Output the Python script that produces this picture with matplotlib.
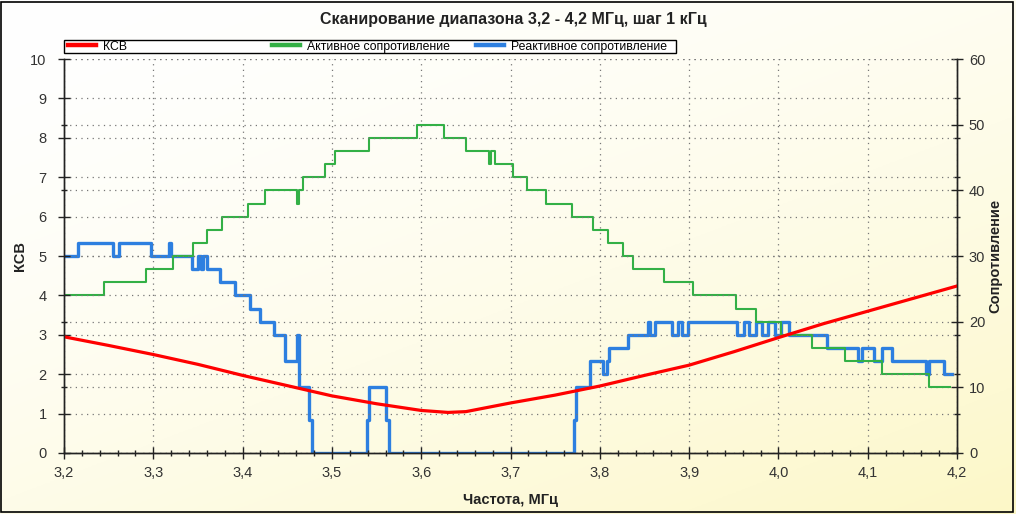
import numpy as np
import matplotlib
matplotlib.use("Agg")
import matplotlib.pyplot as plt
from matplotlib.ticker import MultipleLocator, FixedLocator, FuncFormatter
from matplotlib.patches import Rectangle

plt.rcParams['font.family'] = ['Liberation Sans Narrow', 'Liberation Sans', 'DejaVu Sans']

# КСВ (left axis)
ksv_freq = [3.20, 3.25, 3.30, 3.35, 3.40, 3.45, 3.50, 3.55, 3.60, 3.63, 3.65,
            3.70, 3.75, 3.80, 3.85, 3.90, 3.95, 4.00, 4.05, 4.10, 4.15, 4.20]
ksv = [2.95, 2.73, 2.50, 2.25, 1.97, 1.71, 1.45, 1.25, 1.08, 1.03, 1.05,
       1.27, 1.47, 1.70, 1.97, 2.23, 2.57, 2.93, 3.28, 3.60, 3.92, 4.24]

# Активное сопротивление (right axis, steps)
r_freq = [3.200, 3.245, 3.292, 3.322, 3.344, 3.360, 3.377, 3.406, 3.425, 3.461,
          3.463, 3.468, 3.492, 3.503, 3.542, 3.595, 3.626, 3.650, 3.676, 3.678,
          3.683, 3.703, 3.718, 3.740, 3.769, 3.792, 3.809, 3.826, 3.837, 3.872,
          3.904, 3.953, 3.975, 4.003, 4.037, 4.075, 4.116, 4.169, 4.192]
r_val = [24, 26, 28, 30, 32, 34, 36, 38, 40, 38,
         40, 42, 44, 46, 48, 50, 48, 46, 44, 46,
         44, 42, 40, 38, 36, 34, 32, 30, 28, 26,
         24, 22, 20, 18, 16, 14, 12, 10, 10]

# Реактивное сопротивление (right axis, steps)
x_freq = [3.200, 3.216, 3.255, 3.262, 3.297, 3.318, 3.320, 3.343, 3.350, 3.353,
          3.356, 3.360, 3.375, 3.391, 3.408, 3.419, 3.435, 3.447, 3.461, 3.463,
          3.474, 3.478, 3.539, 3.542, 3.561, 3.564, 3.771, 3.773, 3.789, 3.804,
          3.808, 3.810, 3.832, 3.854, 3.856, 3.862, 3.881, 3.888, 3.892, 3.899,
          3.954, 3.961, 3.967, 3.975, 3.982, 3.988, 3.996, 4.003, 4.012, 4.054,
          4.089, 4.094, 4.107, 4.116, 4.127, 4.165, 4.169, 4.185, 4.194]
x_val = [30, 32, 30, 32, 30, 32, 30, 28, 30, 28,
         30, 28, 26, 24, 22, 20, 18, 14, 18, 10,
         5, 0, 5, 10, 5, 0, 5, 10, 14, 12,
         14, 16, 18, 20, 18, 20, 18, 20, 18, 20,
         18, 20, 18, 20, 18, 20, 18, 20, 18, 16,
         14, 16, 14, 16, 14, 12, 14, 12, 12]

fig = plt.figure(figsize=(10.16, 5.14), dpi=100)

# background gradient
bg = fig.add_axes([0, 0, 1, 1], zorder=-10)
gx, gy = np.meshgrid(np.linspace(0, 1, 200), np.linspace(0, 1, 200))
t = np.clip((gx * 0.6 + gy * 0.8) / 1.4, 0, 1) ** 1.6
img = np.dstack([1 - 0.01 * t, 1 - 0.03 * t, 1 - 0.22 * t])
bg.imshow(img, aspect='auto', extent=[0, 1, 0, 1], origin='upper')
bg.axis('off')
fig.patches.append(Rectangle((0.001, 0.003), 0.996, 0.994, transform=fig.transFigure,
                             fill=False, edgecolor='black', lw=1.2))

ax = fig.add_axes([0.063, 0.1187, 0.879, 0.7663])
ax2 = ax.twinx()
ax.set_zorder(ax2.get_zorder() + 1)
ax.patch.set_visible(False)
ax2.patch.set_visible(False)

l3, = ax2.plot(x_freq, x_val, drawstyle='steps-post', color='#2d7fe0', lw=2.4,
               label='Реактивное сопротивление')
l2, = ax2.plot(r_freq, r_val, drawstyle='steps-post', color='#33b046', lw=1.5,
               label='Активное сопротивление')
l1, = ax.plot(ksv_freq, ksv, color='#ff0000', lw=2.3, label='КСВ')

ax.set_xlim(3.2, 4.2)
ax.set_ylim(0, 10)
ax2.set_ylim(0, 60)

ax.xaxis.set_major_locator(MultipleLocator(0.1))
ax.xaxis.set_minor_locator(MultipleLocator(0.02))
ax.xaxis.set_major_formatter(FuncFormatter(lambda v, p: f"{v:.1f}".replace('.', ',')))
ax.yaxis.set_major_locator(MultipleLocator(1))
ax.yaxis.set_minor_locator(FixedLocator([k * 10 / 6 for k in range(7)]))
ax2.yaxis.set_major_locator(MultipleLocator(10))
ax2.yaxis.set_minor_locator(FixedLocator([k * 6 for k in range(11)]))

for a in (ax, ax2):
    a.spines['top'].set_visible(False)
    for s in a.spines.values():
        s.set_color('#222222')
        s.set_linewidth(1.0)
    a.tick_params(which='major', direction='inout', length=9, width=1, colors='#222222',
                  labelsize=10.5, labelcolor='#333333')
    a.tick_params(which='minor', direction='inout', length=5, width=1, colors='#222222')
ax.tick_params(axis='x', pad=5)
ax.tick_params(axis='y', pad=8)
ax2.tick_params(axis='y', pad=4)

grid_kw = dict(color='#777777', linestyle=(0, (1, 3.5)), linewidth=0.9)
ax.grid(True, which='major', axis='both', **grid_kw)
ax2.grid(True, which='major', axis='y', **grid_kw)

ax.set_xlabel('Частота, МГц', fontsize=10.5, fontweight='bold', color='#222222', labelpad=9)
ax.set_ylabel('КСВ', fontsize=10.5, fontweight='bold', color='#222222', labelpad=2)
ax2.set_ylabel('Сопротивление', fontsize=10.5, fontweight='bold', color='#222222', labelpad=2)

fig.text(0.5055, 0.962, 'Сканирование диапазона 3,2 - 4,2 МГц, шаг 1 кГц', ha='center',
         va='center', fontsize=11.5, fontweight='bold', color='#222222')

# legend: three equal-width slots inside one frame
fig.patches.append(Rectangle((0.063, 0.8968), 0.6024, 0.0253, transform=fig.transFigure,
                             facecolor='white', edgecolor='black', lw=1.0))
for line, x0 in zip([l1, l2, l3], [0.0669, 0.2677, 0.4685]):
    lg = fig.legend(handles=[line], loc='center left', bbox_to_anchor=(x0, 0.9095),
                    borderaxespad=0, borderpad=0, frameon=False, fontsize=8.8,
                    handlelength=2.3, handletextpad=0.6)
    for ln in lg.get_lines():
        ln.set_linewidth(3.2)

fig.savefig('out.png', dpi=100)
